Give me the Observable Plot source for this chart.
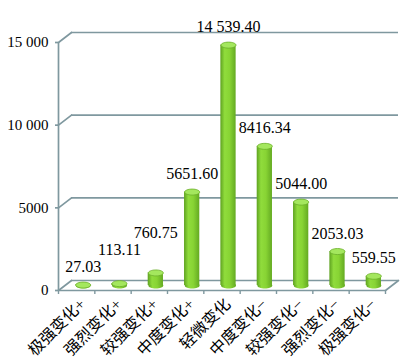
<!DOCTYPE html>
<html>
<head>
<meta charset="utf-8">
<script src="https://cdn.jsdelivr.net/npm/d3@7"></script>
<script src="https://cdn.jsdelivr.net/npm/@observablehq/plot@0.6"></script>
<style>
  html, body { margin: 0; padding: 0; background: #fff; }
</style>
</head>
<body>
<div id="chart"></div>
<script>
const categories = ["极强变化+", "强烈变化+", "较强变化+", "中度变化+", "轻微变化", "中度变化−", "较强变化−", "强烈变化−", "极强变化−"];
const values = [27.03, 113.11, 760.75, 5651.60, 14539.40, 8416.34, 5044.00, 2053.03, 559.55];
const yTicks = [0, 5000, 10000, 15000];

const W = 408, H = 360, mL = 58, mR = 23, mT = 42, mB = 70;
const yMax = 15000;
const unitsPerPx = yMax / (H - mT - mB);

const depthDx = 13, depthDy = -10;
const barDx = depthDx / 2, barDy = depthDy / 2;
const halfW = 0.21;
const labelOffsetPx = 18, labelGapPx = 17;

// value labels: placed above bar tops, stacked upward when neighbours collide
const rows = [];
categories.forEach((c, i) => {
  let ly = values[i] + labelOffsetPx * unitsPerPx;
  if (i > 0) {
    const prev = rows[i - 1].ly;
    if (Math.abs(ly - prev) < labelGapPx * unitsPerPx) ly = prev + labelGapPx * unitsPerPx;
  }
  rows.push({cat: c, i, v: values[i], ly});
});
const xDomain = [-0.5, categories.length - 0.5];
const boundaries = d3.range(categories.length + 1).map(k => k - 0.5);

function fmt(v, digits) {
  const s = v.toFixed(digits);
  let [a, b] = s.split(".");
  if (a.length >= 5) a = a.replace(/\B(?=(\d{3})+(?!\d))/g, " ");
  return b ? a + "." + b : a;
}

const axisColor = "#7f989f";

const ellipse = {
  draw(context) {
    const rx = 7.5, ry = 3, k = 0.5523;
    context.moveTo(rx, 0);
    context.bezierCurveTo(rx, ry * k, rx * k, ry, 0, ry);
    context.bezierCurveTo(-rx * k, ry, -rx, ry * k, -rx, 0);
    context.bezierCurveTo(-rx, -ry * k, -rx * k, -ry, 0, -ry);
    context.bezierCurveTo(rx * k, -ry, rx, -ry * k, rx, 0);
    context.closePath();
  }
};
const lineShape = {
  draw(context, l) {
    context.moveTo(0, 0);
    context.lineTo(0, -l);
  }
};
const depthLen = Math.hypot(depthDx, depthDy);
const depthAngle = Math.atan2(depthDx, -depthDy) * 180 / Math.PI;

const font = "'Liberation Serif', 'Noto Sans CJK SC', serif";

const svg = Plot.plot({
  width: W,
  height: H,
  marginLeft: mL,
  marginRight: mR,
  marginTop: mT,
  marginBottom: mB,
  x: {domain: xDomain, axis: null},
  y: {domain: [0, yMax], axis: null},
  style: {fontFamily: font, fontSize: "14px", background: "#fff", color: "#000"},
  marks: [
    // back wall gridlines
    Plot.ruleY(yTicks, {dx: depthDx, dy: depthDy, stroke: axisColor, strokeWidth: 1.7}),
    // side connectors
    Plot.vector(yTicks, {y: d => d, frameAnchor: "left", length: depthLen, rotate: depthAngle, anchor: "start", shape: lineShape, stroke: axisColor, strokeWidth: 1.7}),
    Plot.vector([0], {y: d => d, frameAnchor: "right", length: depthLen, rotate: depthAngle, anchor: "start", shape: lineShape, stroke: axisColor, strokeWidth: 1.7}),
    // front y axis line and floor
    Plot.ruleX([xDomain[0]], {y1: 0, y2: yMax, stroke: axisColor, strokeWidth: 1.7}),
    Plot.ruleY([0], {stroke: axisColor, strokeWidth: 1.7}),
    Plot.axisX(boundaries, {tickSize: 4, tickFormat: () => "", stroke: axisColor, strokeWidth: 1.4, label: null}),
    Plot.axisY(yTicks, {tickSize: 3, tickPadding: 7, tickFormat: d => fmt(d, 0), stroke: axisColor, strokeWidth: 1.7, fill: "#000", fontSize: 15, fontFamily: font, label: null}),
    // cylinders
    Plot.dot(rows, {x: "i", y: () => 0, symbol: ellipse, fill: "url(#cyl)", dx: barDx, dy: barDy}),
    Plot.rectY(rows, {x1: d => d.i - halfW, x2: d => d.i + halfW, y: "v", fill: "url(#cyl)", dx: barDx, dy: barDy}),
    Plot.dot(rows, {x: "i", y: "v", symbol: ellipse, fill: "#a4e75e", stroke: "#6cae2c", strokeWidth: 0.8, dx: barDx, dy: barDy}),
    // value labels
    Plot.text(rows, {x: "i", y: "ly", text: d => fmt(d.v, 2), dx: barDx, dy: barDy, fill: "#000", fontSize: 16, fontFamily: font}),
    // category labels
    Plot.text(rows, {x: "i", y: () => 0, text: "cat", rotate: -45, textAnchor: "end", dx: 6, dy: 11, fill: "#000", fontSize: 16, fontFamily: font})
  ]
});

const ns = "http://www.w3.org/2000/svg";
const defs = document.createElementNS(ns, "defs");
defs.innerHTML = `
  <linearGradient id="cyl" x1="0" x2="1" y1="0" y2="0">
    <stop offset="0" stop-color="#5ea220"/>
    <stop offset="0.28" stop-color="#90dc3c"/>
    <stop offset="0.6" stop-color="#88d434"/>
    <stop offset="1" stop-color="#64aa22"/>
  </linearGradient>`;
svg.insertBefore(defs, svg.firstChild);
document.getElementById("chart").appendChild(svg);
</script>
</body>
</html>
